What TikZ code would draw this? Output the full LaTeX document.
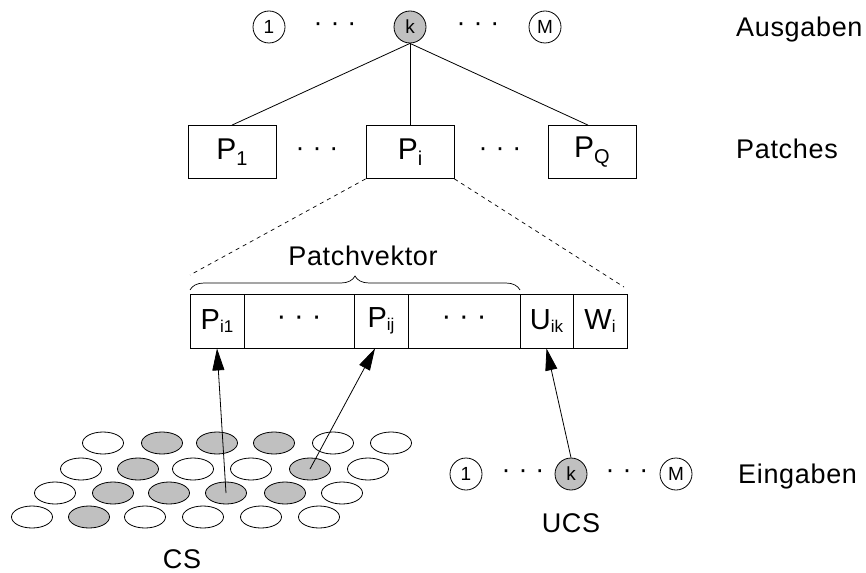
\documentclass[tikz,border=0pt]{standalone}
\usepackage{fontspec}
\setmainfont{Liberation Sans}
\newfontfamily\labfont[LetterSpace=2.5]{Liberation Sans}
\usetikzlibrary{arrows.meta,decorations.pathreplacing,shapes.geometric,calc}
\definecolor{shade}{HTML}{C0C0C0}
\newcommand\subA[1]{\raisebox{-6pt}{\fontsize{20}{20}\selectfont #1}}
\newcommand\subB[1]{\raisebox{-3pt}{\fontsize{17}{17}\selectfont #1}}
\newcommand\threedots{·\hspace{8pt}·\hspace{8pt}·}
\tikzset{
  unit/.style={circle, draw, line width=0.8pt, minimum size=32pt, inner sep=0pt, font=\fontsize{19}{19}\selectfont},
  active/.style={fill=shade},
  patchbox/.style={rectangle, draw, line width=0.8pt, minimum width=88pt, minimum height=53pt, inner sep=0pt, font=\fontsize{30}{30}\selectfont},
  cell/.style={rectangle, draw, line width=0.8pt, minimum height=54pt, inner sep=0pt, font=\fontsize{29}{29}\selectfont},
  dotsnode/.style={inner sep=0pt, font=\fontsize{27}{27}\selectfont},
  lab/.style={inner sep=0pt, font=\labfont\fontsize{27}{27}\selectfont},
  ell/.style={ellipse, draw, line width=0.8pt, minimum width=41pt, minimum height=22pt, inner sep=0pt},
  conn/.style={line width=0.8pt},
  dconn/.style={line width=0.7pt, dash pattern=on 4pt off 4pt},
  arr/.style={line width=0.8pt, -{Triangle[length=22pt,width=12pt]}},
}
\begin{document}
\begin{tikzpicture}[x=1pt,y=-1pt]
\useasboundingbox (0,0) rectangle (866,572);
% output units
\node[unit] (o1) at (269,27) {1};
\node[dotsnode] (od1) at (335,27) {\threedots};
\node[unit,active] (ok) at (410,27) {k};
\node[dotsnode] (od2) at (478,27) {\threedots};
\node[unit] (oM) at (545,27) {M};
\node[lab, anchor=base west] (lAus) at (736,37) {Ausgaben};
% patches
\node[patchbox] (P1) at (232,152) {P\subA{1}};
\node[dotsnode] (pd1) at (317,152) {\threedots};
\node[patchbox] (Pi) at (410,152) {P\subA{i}};
\node[dotsnode] (pd2) at (500,152) {\threedots};
\node[patchbox] (PQ) at (592,152) {P\subA{Q}};
\node[lab, anchor=base west] (lPat) at (736,158) {Patches};
\draw[conn] (ok.south) -- (P1.north);
\draw[conn] (ok.south) -- (Pi.north);
\draw[conn] ($(PQ.north)+(-4,0)$) -- (ok.south);
% patch vector
\node[cell, minimum width=54pt] (c1) at (217,321) {P\subB{i1}};
\node[cell, minimum width=110pt] (c2) at (299,321) {\threedots};
\node[cell, minimum width=54pt] (c3) at (381,321) {P\subB{ij}};
\node[cell, minimum width=112pt] (c4) at (464,321) {\threedots};
\node[cell, minimum width=53pt] (c5) at (546.5,321) {U\subB{ik}};
\node[cell, minimum width=54pt] (c6) at (600,321) {W\subB{i}};
\coordinate (dl) at (190,275);
\coordinate (dr) at (624,287);
\draw[dconn] (Pi.south west) -- (dl);
\draw[dconn] (Pi.south east) -- (dr);
\draw[line width=0.7pt, decorate, decoration={brace, amplitude=14pt}] (190,290) -- (520,290);
\node[lab, anchor=base] (lPv) at (363,265) {Patchvektor};
% CS field
\foreach \x/\f [count=\i] in {103/white,162/shade,217/shade,274/shade,333/white,391/white}
  \node[ell, fill=\f] (e1\i) at (\x,443) {};
\foreach \x/\f [count=\i] in {81/white,138/shade,193/white,251/white,310/shade,368/white}
  \node[ell, fill=\f] (e2\i) at (\x,469) {};
\foreach \x/\f [count=\i] in {55/white,113/shade,169/shade,226/shade,285/shade,342/white}
  \node[ell, fill=\f] (e3\i) at (\x,493) {};
\foreach \x/\f [count=\i] in {32/white,89/shade,145/white,203/white,261/white,319/white}
  \node[ell, fill=\f] (e4\i) at (\x,517) {};
\node[lab, anchor=base] (lCS) at (182,568) {CS};
% UCS
\node[unit] (u1) at (466,474) {1};
\node[dotsnode] (ud1) at (523,474) {\threedots};
\node[unit,active] (uk) at (571,474) {k};
\node[dotsnode] (ud2) at (627,474) {\threedots};
\node[unit] (uM) at (676,474) {M};
\node[lab, anchor=base] (lUCS) at (571,532) {UCS};
\node[lab, anchor=base west] (lEin) at (738,483) {Eingaben};
% arrows
\draw[arr] (e34.center) -- (c1.south);
\draw[arr] (e25.center) -- ($(c3.south)+(-6,0)$);
\draw[arr] (uk.north) -- (c5.south);
\end{tikzpicture}
\end{document}
